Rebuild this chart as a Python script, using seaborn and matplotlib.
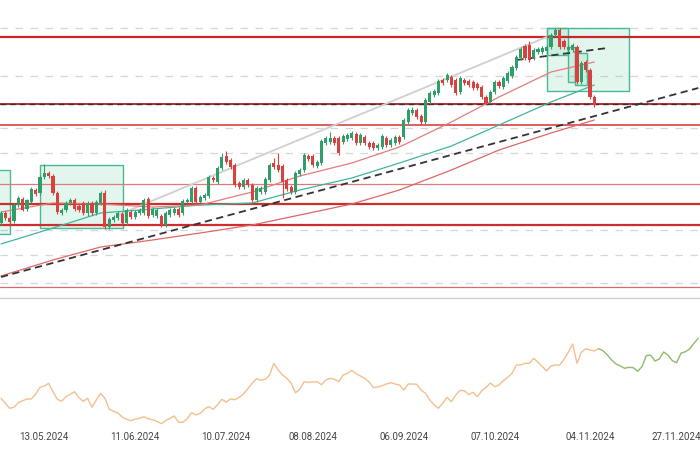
import numpy as np
import pandas as pd
import seaborn as sns
import matplotlib.pyplot as plt
from matplotlib.patches import Rectangle

# daily candles (price units)
opens = [77, 87, 82, 79, 95, 101, 91, 98, 110, 107,
         123, 127, 124, 107, 87, 90, 97, 100, 94, 97,
         87, 97, 87, 97, 107, 73, 80, 82, 86, 77,
         88, 83, 87, 87, 101, 85, 84, 84, 75, 85,
         87, 91, 87, 98, 98, 112, 98, 102, 104, 122,
         118, 132, 144, 140, 135, 117, 113, 120, 115, 100,
         108, 108, 120, 137, 135, 134, 120, 113, 108, 126,
         130, 144, 144, 134, 137, 157, 158, 162, 162, 158,
         161, 162, 166, 157, 163, 157, 157, 152, 153, 162,
         155, 157, 163, 163, 178, 187, 190, 184, 178, 198,
         205, 207, 220, 220, 223, 220, 208, 220, 219, 218,
         216, 213, 203, 198, 208, 218, 213, 219, 224, 232,
         242, 254, 255, 242, 248, 248, 249, 253, 265, 270,
         259, 250, 250, 253, 218, 238, 230, 203]
closes = [87, 82, 78, 95, 102, 90, 100, 111, 106, 123,
          127, 124, 107, 88, 90, 97, 100, 91, 90, 87,
          97, 87, 98, 107, 73, 81, 83, 87, 77, 90,
          83, 88, 90, 100, 84, 91, 90, 75, 87, 90,
          91, 85, 99, 100, 112, 98, 103, 105, 123, 120,
          132, 143, 138, 133, 115, 113, 120, 115, 100, 112,
          112, 121, 135, 133, 130, 118, 111, 108, 127, 130,
          145, 141, 135, 138, 159, 162, 162, 157, 147, 164,
          165, 167, 157, 165, 157, 153, 152, 155, 164, 155,
          160, 163, 158, 180, 190, 190, 183, 178, 200, 207,
          209, 219, 217, 225, 215, 207, 222, 217, 215, 212,
          212, 203, 197, 208, 218, 214, 222, 227, 233, 243,
          251, 242, 240, 250, 251, 252, 253, 265, 270, 253,
          253, 253, 255, 218, 237, 230, 203, 195]
highs = [89, 89, 84, 97, 104, 103, 101, 113, 112, 125,
         136, 129, 126, 109, 92, 99, 102, 102, 96, 99,
         99, 99, 100, 109, 110, 83, 85, 89, 88, 92,
         90, 90, 92, 102, 103, 93, 92, 86, 89, 92,
         93, 93, 101, 102, 114, 114, 105, 107, 125, 124,
         134, 147, 149, 142, 137, 119, 122, 122, 117, 114,
         114, 123, 137, 142, 147, 136, 122, 115, 129, 132,
         147, 146, 146, 140, 161, 164, 168, 164, 164, 166,
         167, 169, 168, 167, 165, 159, 159, 157, 166, 164,
         162, 165, 165, 182, 192, 193, 192, 186, 202, 209,
         211, 221, 222, 227, 225, 222, 224, 222, 221, 220,
         218, 215, 205, 210, 220, 220, 224, 229, 235, 245,
         253, 256, 259, 252, 253, 254, 255, 267, 272, 272,
         261, 255, 257, 255, 239, 240, 232, 205]
lows = [75, 80, 74, 77, 93, 89, 89, 97, 104, 105,
        121, 122, 105, 86, 85, 88, 95, 89, 88, 85,
        84, 85, 85, 95, 71, 71, 78, 80, 75, 75,
        81, 81, 85, 85, 82, 83, 82, 73, 73, 83,
        85, 83, 85, 96, 96, 96, 96, 100, 102, 118,
        116, 130, 136, 131, 113, 111, 111, 113, 98, 98,
        106, 106, 118, 131, 128, 102, 109, 106, 106, 124,
        128, 139, 133, 132, 135, 155, 156, 155, 145, 156,
        159, 160, 155, 155, 155, 151, 150, 150, 151, 153,
        153, 155, 156, 161, 176, 185, 181, 176, 176, 196,
        203, 205, 215, 218, 213, 205, 206, 215, 213, 210,
        210, 201, 195, 196, 206, 212, 211, 217, 222, 230,
        240, 240, 238, 240, 246, 246, 247, 251, 263, 251,
        251, 248, 248, 216, 216, 228, 201, 193]

# moving averages (read at anchor candles)
ma_idx = [0, 12, 23, 35, 46, 58, 69, 81, 92, 104, 115, 127, 137]
ma_fast = [88, 97, 96, 93, 95, 108, 124, 137, 153, 178, 203, 228, 238]
ma_mid = [56, 72, 87, 91, 95, 97, 110, 122, 137, 154, 175, 198, 215]
ma_slow = [24, 40, 53, 60, 67, 75, 85, 96, 110, 130, 150, 167, 180]

# drawn objects
trend_idx, trend_val = [0, 161], [23, 212]
short_idx, short_val = [119, 140], [240, 252]
channel_idx, channel_val = [27, 126], [85, 263]
levels = [263, 196, 175, 116, 96, 75, 13]
grid_levels = [272, 224, 196, 172, 147, 70, 45, 17]
box_x0 = [-3, 9, 126, 126, 131, 132.6]
box_x1 = [2.1, 28.2, 145, 131, 132.6, 135.3]
box_lo = [66, 72, 209, 245, 218, 215]
box_hi = [130, 135, 272, 272, 253, 247]

# lower panel series
osc = [31.7, 26.7, 21.7, 22.7, 27.3, 29.3, 31.0, 31.0, 36.0, 42.7,
       44.0, 46.7, 38.3, 30.7, 28.7, 33.3, 35.7, 38.3, 32.3, 28.7,
       31.7, 22.7, 30.0, 36.7, 31.7, 20.7, 18.7, 17.0, 13.0, 10.7,
       9.3, 11.0, 11.7, 13.3, 11.3, 10.3, 8.7, 6.3, 9.3, 11.7,
       14.0, 7.7, 7.7, 11.3, 17.3, 15.0, 16.7, 21.0, 23.3, 20.7,
       25.3, 30.7, 28.0, 31.0, 30.3, 32.7, 36.0, 41.3, 46.7, 51.3,
       49.7, 50.7, 54.7, 66.7, 60.0, 55.0, 51.7, 46.7, 37.3, 40.7,
       48.3, 47.7, 48.0, 48.3, 45.3, 50.0, 51.7, 50.7, 48.3, 55.0,
       56.7, 59.7, 56.3, 54.0, 51.7, 48.0, 42.3, 43.0, 44.3, 46.0,
       47.3, 46.0, 45.0, 40.0, 46.0, 46.0, 45.7, 40.0, 36.7, 30.0,
       25.3, 21.7, 26.7, 32.7, 28.3, 35.0, 39.7, 39.3, 35.3, 37.7,
       33.3, 39.3, 42.7, 47.0, 43.3, 45.0, 49.3, 52.7, 56.7, 65.0,
       65.0, 66.7, 66.7, 71.7, 67.7, 63.3, 59.0, 64.0, 65.0, 65.0,
       70.7, 77.7, 86.0, 66.7, 77.7, 81.3, 80.0, 79.0, 81.3, 79.3,
       75.0, 70.0, 66.0, 64.0, 61.7, 62.7, 62.3, 58.7, 63.3, 74.3,
       75.0, 69.0, 71.0, 78.0, 75.0, 69.3, 67.3, 76.7, 78.3, 81.0,
       86.7, 91.7]
osc_split = 138
tick_days = [10, 31, 52, 72, 93, 114, 136, 156]
tick_labels = ["13.05.2024", "11.06.2024", "10.07.2024", "08.08.2024",
               "06.09.2024", "07.10.2024", "04.11.2024", "27.11.2024"]

GREEN, RED = "#2f9e68", "#d9413f"

sns.set_theme(style="white")
plt.rcParams['font.family'] = ['Roboto', 'DejaVu Sans']

fig = plt.figure(figsize=(7, 4.5), dpi=100)
ax = fig.add_axes([0, 152 / 450, 1, 298 / 450])
ax2 = fig.add_axes([0, 22 / 450, 1, 128 / 450])

# grid + levels
for g in grid_levels:
    ax.axhline(g, color="#d6d6d6", lw=0.9, ls=(0, (6, 6)), zorder=0)
level_style = [(1.6, "#c62828"), (1.3, "#b71c1c"), (1.2, "#d84343"), (0.9, "#e07a7a"),
               (1.6, "#cc2e2e"), (1.6, "#cc2e2e"), (0.9, "#d86a6a")]
for lv, (lw, col) in zip(levels, level_style):
    ax.axhline(lv, color=col, lw=lw, zorder=2)
ax.axhline(levels[1], color="#333333", lw=1.0, ls=(0, (4, 3)), zorder=2.5)

# zones
for x0, x1, lo, hi in zip(box_x0, box_x1, box_lo, box_hi):
    ax.add_patch(Rectangle((x0, lo), x1 - x0, hi - lo, facecolor=(0.3, 0.78, 0.6, 0.16),
                           edgecolor="#4cb893", lw=1.0, zorder=1))

# trend lines and moving averages
sns.lineplot(x=channel_idx, y=channel_val, ax=ax, color="#cfcfcf", lw=1.3, zorder=3)
sns.lineplot(x=ma_idx, y=ma_slow, ax=ax, color="#e06666", lw=0.9, zorder=3)
sns.lineplot(x=ma_idx, y=ma_mid, ax=ax, color="#3fb59b", lw=0.9, zorder=3)
sns.lineplot(x=ma_idx, y=ma_fast, ax=ax, color="#e57c7c", lw=0.9, zorder=3)
sns.lineplot(x=trend_idx, y=trend_val, ax=ax, color="#333333", lw=1.3,
             linestyle=(0, (4, 2.5)), zorder=3)
sns.lineplot(x=short_idx, y=short_val, ax=ax, color="#333333", lw=1.3,
             linestyle=(0, (4, 2.5)), zorder=3)

# candles
df = pd.DataFrame(dict(o=opens, h=highs, l=lows, c=closes))
idx = np.arange(len(df))
cols = np.where(df.c >= df.o, GREEN, RED)
ax.vlines(idx, df.l, df.h, colors=cols, lw=0.8, zorder=4)
ax.bar(idx, (df.c - df.o).abs().clip(lower=0.8), bottom=df[["o", "c"]].min(axis=1),
       width=0.72, color=cols, linewidth=0, zorder=5)

ax.set_xlim(-0.23, 161.4)
ax.set_ylim(2, 300)
ax.set_xticks([])
ax.set_yticks([])
for s in ["top", "left", "right"]:
    ax.spines[s].set_visible(False)
ax.spines["bottom"].set_color("#d0d0d0")
ax.spines["bottom"].set_linewidth(1.0)

# lower panel
days = np.arange(len(osc))
sns.lineplot(x=days[:osc_split + 1], y=osc[:osc_split + 1], ax=ax2, color="#f2c08e", lw=1.0)
sns.lineplot(x=days[osc_split:], y=osc[osc_split:], ax=ax2, color="#8dbb6a", lw=1.0)
ax2.set_xlim(-0.23, 161.4)
ax2.set_ylim(2, 130)
ax2.set_yticks([])
ax2.set_xticks(tick_days)
ax2.set_xticklabels(tick_labels, fontsize=7, color="#444444")
ax2.tick_params(axis="x", length=0, pad=3)
ax2.set_xlabel("")
ax2.set_ylabel("")
for s in ax2.spines.values():
    s.set_visible(False)

fig.savefig("out.png", dpi=100)
